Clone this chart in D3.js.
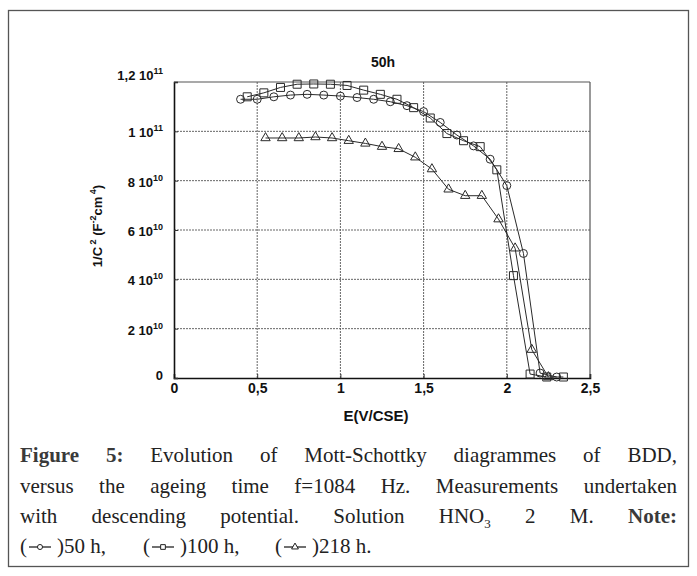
<!DOCTYPE html>
<html><head><meta charset="utf-8">
<script src="https://cdn.jsdelivr.net/npm/d3@7"></script>
<style>
body{margin:0;background:#fff}
svg{display:block}
</style></head><body>
<svg id="fig" width="697" height="576"></svg>
<script>
// Axis ticks and their printed labels
const xTicks = [0, 0.5, 1, 1.5, 2, 2.5];
const xTickText = ["0", "0,5", "1", "1,5", "2", "2,5"];
const yTicks = [0, 2e10, 4e10, 6e10, 8e10, 1e11, 1.2e11];
const yTickMantissa = ["0", "2", "4", "6", "8", "1", "1,2"];
const yTickExponent = ["", "10", "10", "10", "10", "11", "11"];

// Mott-Schottky data: potential E (V/CSE) and 1/C^2 (F^-2 cm^4)
const e50 = [0.40, 0.50, 0.60, 0.70, 0.80, 0.90, 1.00, 1.10, 1.20, 1.30, 1.40, 1.50, 1.60, 1.70, 1.80, 1.90, 2.00, 2.10, 2.20, 2.30];
const v50 = [11.30e10, 11.30e10, 11.40e10, 11.47e10, 11.50e10, 11.47e10, 11.43e10, 11.37e10, 11.30e10, 11.20e10, 11.04e10, 10.80e10, 10.36e10, 9.85e10, 9.41e10, 8.87e10, 7.80e10, 5.05e10, 0.20e10, 0.04e10];
const e100 = [0.44, 0.54, 0.64, 0.74, 0.84, 0.94, 1.04, 1.14, 1.24, 1.34, 1.44, 1.54, 1.64, 1.74, 1.84, 1.94, 2.04, 2.14, 2.24, 2.34];
const v100 = [11.40e10, 11.56e10, 11.78e10, 11.91e10, 11.92e10, 11.91e10, 11.86e10, 11.67e10, 11.50e10, 11.30e10, 10.96e10, 10.54e10, 9.91e10, 9.62e10, 9.38e10, 8.44e10, 4.15e10, 0.16e10, 0.04e10, 0.04e10];
const e218 = [0.55, 0.65, 0.75, 0.85, 0.95, 1.05, 1.15, 1.25, 1.35, 1.45, 1.55, 1.65, 1.75, 1.85, 1.95, 2.05, 2.15, 2.25];
const v218 = [9.73e10, 9.73e10, 9.73e10, 9.77e10, 9.73e10, 9.62e10, 9.51e10, 9.38e10, 9.29e10, 8.95e10, 8.47e10, 7.65e10, 7.39e10, 7.39e10, 6.44e10, 5.26e10, 1.15e10, 0.04e10];

const seriesNames = ["50 h", "100 h", "218 h"];
const seriesE = [e50, e100, e218];
const seriesV = [v50, v100, v218];
const seriesSymbols = [d3.symbolCircle, d3.symbolSquare, d3.symbolTriangle];

const svg = d3.select("#fig");
const ink = "#2a2a2a";
const sans = "'Liberation Sans', Arial, sans-serif";
const serif = "'Liberation Serif', 'Times New Roman', serif";

// outer frame of the figure
svg.append("rect").attr("x", 8.5).attr("y", 10.5).attr("width", 680).attr("height", 556)
  .attr("fill", "none").attr("stroke", "#555").attr("stroke-width", 1.3);

const L = 174, R = 590, T = 82, B = 378;
const x = d3.scaleLinear().domain([0, 2.5]).range([L, R]);
const y = d3.scaleLinear().domain([0, 1.2e11]).range([B, T]);

// dotted grid
const grid = svg.append("g");
grid.selectAll("line.gx").data(xTicks.slice(1, -1)).join("line")
  .attr("x1", d => x(d)).attr("x2", d => x(d)).attr("y1", T).attr("y2", B)
  .attr("stroke", "#666").attr("stroke-width", 1).attr("stroke-dasharray", "2,1");
grid.selectAll("line.gy").data(yTicks.slice(1, -1)).join("line")
  .attr("x1", L).attr("x2", R).attr("y1", d => y(d)).attr("y2", d => y(d))
  .attr("stroke", "#666").attr("stroke-width", 1).attr("stroke-dasharray", "2,1");

// frame: top/right lighter, left/bottom axes dark
svg.append("line").attr("x1", L).attr("x2", R).attr("y1", T).attr("y2", T).attr("stroke", "#555").attr("stroke-width", 1.2);
svg.append("line").attr("x1", R).attr("x2", R).attr("y1", T).attr("y2", B).attr("stroke", "#555").attr("stroke-width", 1.2);

const xAxis = svg.append("g").attr("transform", `translate(0,${B})`)
  .call(d3.axisBottom(x).tickValues(xTicks).tickSize(-4).tickFormat((d, i) => xTickText[i]));
const yAxis = svg.append("g").attr("transform", `translate(${L},0)`)
  .call(d3.axisLeft(y).tickValues(yTicks).tickSize(-4).tickFormat(""));
[xAxis, yAxis].forEach(a => {
  a.select(".domain").attr("stroke", "#111").attr("stroke-width", 1.6);
  a.selectAll(".tick line").attr("stroke", "#333");
});
xAxis.selectAll(".tick text").attr("font-family", sans).attr("font-weight", "bold")
  .attr("font-size", 14).attr("fill", "#111").attr("y", 5).attr("dy", "0.71em");

// y tick labels with power-of-ten superscripts
const yLab = svg.append("g").attr("font-family", sans).attr("font-weight", "bold").attr("fill", "#111");
yTicks.forEach((v, i) => {
  let cy = y(v) + 6;
  if (i === yTicks.length - 1) cy = y(v) - 2;
  if (i === 0) cy = y(v) + 2;
  const t = yLab.append("text").attr("x", 163).attr("y", cy).attr("text-anchor", "end").attr("font-size", 13);
  if (yTickExponent[i]) {
    t.append("tspan").text(yTickMantissa[i] + " 10");
    t.append("tspan").attr("font-size", 9).attr("dy", -6).text(yTickExponent[i]);
  } else {
    t.text(yTickMantissa[i]);
  }
});

// title and axis titles
svg.append("text").attr("x", 383).attr("y", 67).attr("text-anchor", "middle")
  .attr("font-family", sans).attr("font-weight", "bold").attr("font-size", 14).attr("fill", "#111").text("50h");
svg.append("text").attr("x", 376).attr("y", 421).attr("text-anchor", "middle")
  .attr("font-family", sans).attr("font-weight", "bold").attr("font-size", 15).attr("fill", "#111").text("E(V/CSE)");
const yt = svg.append("text").attr("transform", "translate(102,226) rotate(-90)").attr("text-anchor", "middle")
  .attr("font-family", sans).attr("font-weight", "bold").attr("font-size", 13).attr("fill", "#111");
yt.append("tspan").text("1/C");
yt.append("tspan").attr("font-size", 9).attr("dy", -6).text(" 2");
yt.append("tspan").attr("dy", 6).text(" (F");
yt.append("tspan").attr("font-size", 9).attr("dy", -6).text("-2");
yt.append("tspan").attr("dy", 6).text("cm");
yt.append("tspan").attr("font-size", 9).attr("dy", -6).text(" 4");
yt.append("tspan").attr("dy", 6).text(")");

// series lines and hollow markers
const line = d3.line().x(d => x(d[0])).y(d => y(d[1]));
const markerSize = [50, 64, 38];
seriesNames.forEach((name, s) => {
  const pts = seriesE[s].map((e, i) => [e, seriesV[s][i]]);
  const g = svg.append("g").attr("class", "series").attr("data-name", name);
  g.append("path").datum(pts).attr("d", line).attr("fill", "none").attr("stroke", ink).attr("stroke-width", 1);
  g.selectAll("path.m").data(pts).join("path").attr("class", "m")
    .attr("transform", d => `translate(${x(d[0])},${y(d[1])})`)
    .attr("d", d3.symbol().type(seriesSymbols[s]).size(markerSize[s]))
    .attr("fill", "none").attr("stroke", ink).attr("stroke-width", 1);
});

// caption, justified between the figure margins
const cap = svg.append("g").attr("font-family", serif).attr("font-size", 21).attr("fill", "#222");
const capLeft = 20, capRight = 677;
const capLines = [
  { y: 462, words: [[["Figure", 1]], [["5:", 1]], [["Evolution"]], [["of"]], [["Mott-Schottky"]], [["diagrammes"]], [["of"]], [["BDD,"]]] },
  { y: 492.5, words: [[["versus"]], [["the"]], [["ageing"]], [["time"]], [["f=1084"]], [["Hz."]], [["Measurements"]], [["undertaken"]]] },
  { y: 523, words: [[["with"]], [["descending"]], [["potential."]], [["Solution"]], [["HNO"], ["3", 0, 1]], [["2"]], [["M."]], [["Note:", 1]]] }
];
capLines.forEach(ln => {
  const nodes = ln.words.map(w => {
    const t = cap.append("text").attr("y", ln.y);
    w.forEach(seg => {
      const sp = t.append("tspan").text(seg[0]);
      if (seg[1]) sp.attr("font-weight", "bold").attr("fill", "#3a3a3a");
      if (seg[2]) sp.attr("font-size", 13).attr("dy", 5);
    });
    return t;
  });
  const widths = nodes.map(n => n.node().getComputedTextLength());
  const gap = (capRight - capLeft - d3.sum(widths)) / (nodes.length - 1);
  let cx = capLeft;
  nodes.forEach((n, i) => { n.attr("x", cx); cx += widths[i] + gap; });
});

// legend row inside the caption
const legY = 553;
const legendItems = [
  { open: 20, sym: 29, close: 57 },
  { open: 143, sym: 152, close: 180 },
  { open: 275, sym: 284, close: 312 }
];
const legendSize = [20, 22, 20];
legendItems.forEach((it, s) => {
  cap.append("text").attr("x", it.open).attr("y", legY).text("(");
  cap.append("line").attr("x1", it.sym).attr("x2", it.sym + 22).attr("y1", legY - 6).attr("y2", legY - 6)
    .attr("stroke", "#222").attr("stroke-width", 1.3);
  cap.append("path").attr("transform", `translate(${it.sym + 11},${legY - 6})`)
    .attr("d", d3.symbol().type(seriesSymbols[s]).size(legendSize[s]))
    .attr("fill", "#fff").attr("stroke", "#222").attr("stroke-width", 1);
  cap.append("text").attr("x", it.close).attr("y", legY)
    .text(")" + seriesNames[s] + (s < seriesNames.length - 1 ? "," : "."));
});
</script>
</body></html>
